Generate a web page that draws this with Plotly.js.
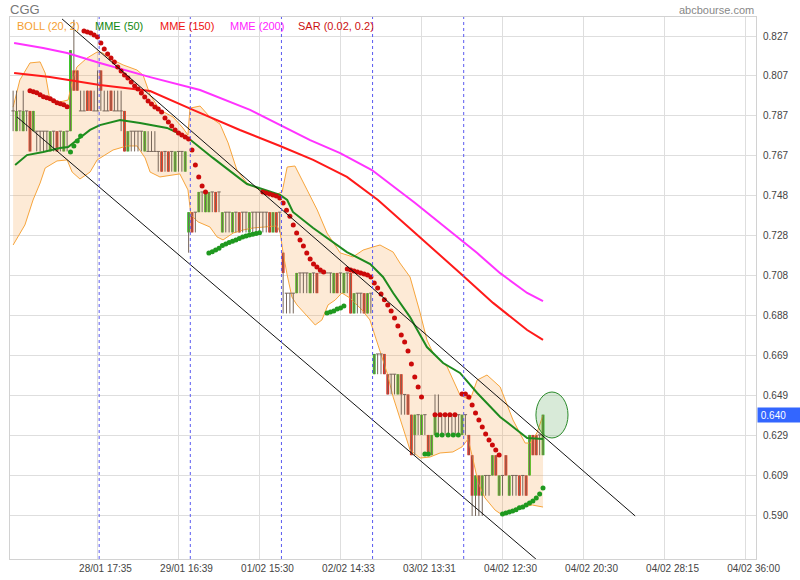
<!DOCTYPE html>
<html><head><meta charset="utf-8">
<script src="https://cdn.plot.ly/plotly-3.0.1.min.js"></script>
<style>html,body{margin:0;padding:0;background:#fff}#chart{width:800px;height:580px}</style>
</head><body><div id="chart"></div>
<script>
// ---------- axes ----------
const xTickIdx = [25, 49, 73, 97, 121, 145, 169, 193, 217];
const xTickText = ["28/01 17:35","29/01 16:39","01/02 15:30","02/02 14:33","03/02 13:31","04/02 12:30","04/02 20:30","04/02 28:15","04/02 36:00"];
const yTickVals = [0.8270,0.80725,0.7875,0.76775,0.7480,0.72825,0.7085,0.68875,0.6690,0.64925,0.6295,0.60975,0.5900];
const yTickText = ["0.827","0.807","0.787","0.767","0.748","0.728","0.708","0.688","0.669","0.649","0.629","0.609","0.590"];
const dayBreaks = [25.5, 52.5, 79.5, 106.5, 133.5];
const lastPrice = 0.640;

// ---------- candles (one per 20-min bar) ----------
const open = [
 .79,.78,.79,.78,.79,.79,.78,.78,.78,.78,.78,.77,.78,.78,.78,.77,.78,.78,.81,.81,.79,.79,.80,.80,.79,.79,
 .81,.79,.79,.80,.79,.79,.79,.79,.77,.78,.78,.78,.78,.77,.77,.77,.77,.77,.77,.77,.77,.77,.76,.77,.77,.76,.73,
 .74,.74,.74,.75,.74,.74,.75,.75,.75,.73,.74,.74,.73,.74,.74,.74,.74,.73,.74,.74,.74,.74,.74,.74,.73,.74,.74,
 .72,.70,.70,.70,.70,.71,.71,.71,.70,.71,.71,.71,.71,.71,.71,.70,.71,.71,.70,.71,.71,.69,.70,.70,.70,.69,.70,
 .66,.67,.67,.67,.66,.66,.66,.65,.66,.65,.65,.64,.63,.64,.63,.64,.63,.62,.63,.64,.64,.64,.64,.64,.64,.64,.63,
 .64,.63,.62,.60,.61,.60,.61,.61,.61,.62,.60,.61,.62,.60,.61,.61,.61,.61,.61,.61,.63,.63,.63,.62];
const high = [
 .80,.80,.79,.80,.79,.79,.79,.78,.78,.78,.78,.78,.78,.78,.78,.78,.78,.82,.835,.81,.80,.80,.80,.80,.80,.81,
 .81,.80,.80,.80,.80,.80,.80,.79,.78,.78,.78,.78,.78,.78,.78,.78,.78,.77,.77,.77,.77,.77,.77,.77,.77,.77,.74,
 .74,.74,.75,.75,.75,.75,.75,.75,.75,.74,.74,.74,.74,.74,.74,.74,.74,.74,.74,.74,.74,.74,.74,.74,.74,.74,.74,
 .72,.70,.70,.70,.71,.71,.71,.71,.71,.71,.71,.71,.71,.71,.71,.71,.71,.71,.71,.71,.71,.70,.70,.70,.70,.70,.70,
 .67,.67,.67,.67,.66,.66,.66,.66,.66,.65,.65,.64,.64,.64,.64,.64,.63,.63,.65,.65,.64,.64,.64,.64,.64,.64,.64,
 .64,.63,.62,.61,.61,.61,.61,.61,.62,.62,.61,.61,.62,.61,.61,.61,.61,.61,.61,.63,.63,.63,.63,.64];
const low = [
 .78,.78,.78,.78,.78,.77,.78,.77,.77,.77,.77,.77,.77,.77,.77,.77,.77,.78,.80,.80,.79,.79,.79,.79,.79,.79,
 .79,.79,.79,.79,.79,.79,.78,.77,.77,.77,.77,.77,.77,.77,.77,.77,.77,.76,.76,.76,.76,.76,.76,.76,.76,.76,.72,
 .73,.73,.74,.74,.74,.74,.74,.74,.74,.73,.73,.73,.73,.73,.73,.73,.73,.73,.73,.73,.73,.73,.73,.73,.73,.73,.73,
 .69,.69,.69,.69,.70,.70,.70,.70,.70,.70,.70,.71,.71,.71,.70,.70,.70,.70,.70,.70,.69,.69,.69,.69,.69,.69,.69,
 .66,.66,.66,.66,.65,.65,.65,.65,.64,.64,.64,.62,.62,.63,.63,.63,.62,.62,.63,.63,.63,.63,.63,.63,.63,.63,.63,
 .63,.62,.59,.59,.59,.59,.60,.60,.61,.61,.60,.60,.61,.60,.60,.60,.60,.60,.60,.61,.62,.62,.62,.62];
const close = [
 .79,.79,.79,.79,.79,.77,.79,.78,.78,.78,.78,.78,.78,.77,.78,.78,.78,.82,.80,.80,.79,.79,.79,.79,.79,.79,
 .80,.79,.79,.79,.79,.79,.79,.77,.78,.78,.78,.78,.78,.78,.77,.77,.77,.77,.76,.77,.76,.77,.77,.77,.77,.77,.74,
 .73,.74,.75,.75,.75,.75,.75,.74,.75,.74,.74,.74,.74,.74,.73,.74,.74,.74,.74,.74,.74,.74,.74,.73,.74,.73,.74,
 .71,.70,.70,.70,.71,.71,.71,.71,.71,.71,.70,.71,.71,.71,.71,.71,.70,.71,.71,.71,.69,.70,.70,.70,.69,.70,.70,
 .67,.67,.67,.66,.65,.66,.66,.66,.65,.65,.64,.62,.64,.64,.64,.64,.62,.63,.64,.64,.64,.64,.64,.64,.64,.64,.64,
 .64,.62,.60,.61,.60,.61,.61,.61,.62,.61,.61,.61,.61,.61,.61,.61,.60,.61,.60,.63,.62,.62,.63,.64];

// ---------- Bollinger (20,2) ----------
const bollUpperX = [0,2,5,8,9.5,10.9,13.9,16.3,17.5,18.9,21.9,24.9,26.6,29.6,32.6,36.7,38.5,40.6,43.5,47.4,50.3,51.8,52.4,55.4,58.3,61.3,63.7,66.3,69.3,73.2,77.6,79.7,81.2,83.5,87.1,90.1,93,96.9,100.7,103.7,106.6,108.7,112.6,114.6,117.6,120.6,122.6,124.4,128.6,132.4,135.4,137.5,140.4,144.3,148.1,151.7,153.2,155.2,157];
const bollUpperY = [.7919,.8053,.8137,.8142,.8087,.7954,.7944,.7954,.8043,.8117,.8161,.8191,.8186,.8151,.8127,.8102,.8077,.7979,.7905,.787,.7816,.7781,.7914,.7924,.787,.7835,.7742,.7608,.7544,.751,.7485,.75,.7623,.7628,.751,.7411,.7297,.7199,.7179,.7213,.7228,.7238,.7203,.7149,.708,.6902,.6769,.6705,.6636,.6497,.6473,.6571,.6596,.6537,.6374,.626,.626,.631,.6398];
const bollLowerX = [0,3.5,5.9,8,9.5,13,16,17.5,19.8,22.8,24.9,29.6,33.7,36.7,39.1,40.6,43.5,49.4,51.8,52.7,54.8,58.3,60.4,62.2,65.2,68.1,71.1,75.2,78.2,79.1,80,81.2,82.6,84.1,87.4,89.5,91.5,93.3,95.4,97.4,99.8,103.4,105.7,108.7,110.8,112.6,115.5,117.6,120.6,123.5,126.5,130.3,133,134.8,136.3,137.8,139.8,142.8,144.9,147.8,150.8,153.8,157];
const bollLowerY = [.7238,.7337,.746,.7544,.7618,.7653,.7658,.7598,.7564,.7598,.7658,.7707,.7727,.7727,.7668,.7598,.7574,.7589,.751,.7386,.7352,.7327,.7278,.7263,.7297,.7312,.7322,.7327,.7332,.7302,.7198,.709,.6981,.6942,.6882,.6843,.6868,.6942,.6966,.7001,.6976,.6917,.6868,.6719,.6606,.6487,.6339,.6226,.6186,.6191,.6211,.6216,.6241,.628,.6176,.6063,.5989,.5929,.5905,.5929,.5944,.5954,.5944];

// ---------- moving averages ----------
const mme50X = [0.6,4.1,8.9,13.9,16.3,18.9,22.8,25.7,31.7,37.6,45.6,51.5,55.4,59.2,69.3,79.1,81.2,82.9,88.9,93.9,98.9,105.8,109.6,112.6,117.6,122.6,127.4,132.4,137.5,144.3,149.3,152.3,157];
const mme50Y = [.7633,.7682,.7697,.7717,.7722,.7756,.7806,.783,.7855,.784,.7816,.7771,.7717,.7668,.7539,.7485,.746,.7401,.7322,.7263,.7203,.7144,.708,.7001,.6882,.6734,.6655,.6606,.6507,.6389,.6325,.6285,.628];
const mme150X = [0.3,10.9,25.7,40.6,53.3,67.2,79.1,88.9,98.9,108.1,119.1,126.5,132.4,142.2,152.3,157];
const mme150Y = [.8087,.8068,.8028,.7998,.7905,.7806,.7727,.7658,.7574,.746,.7297,.7189,.71,.6952,.6818,.6769];
const mme200X = [0.3,8.9,16,25.7,40.6,55.4,70.2,88,96.9,106.3,119.1,132.4,137.5,144.3,152.3,157];
const mme200Y = [.8235,.8211,.8186,.8137,.8067,.8003,.7905,.7756,.7692,.7608,.7445,.7263,.7198,.7099,.7001,.6961];

// ---------- parabolic SAR (0.02, 0.2): [first bar, values] ----------
const sarRedSegs = [
 [5,  [.800,.7995,.799,.798,.797,.7965,.796,.795,.794,.7935,.793,.792]],
 [21, [.8295,.829,.8285,.8275,.8265,.8235,.8206,.8181,.8161,.8142,.8117,.8097,.8077,.8063,.8043,.8023,.8008,.7989,.7969,.7949,.7934,.7919,.791,.7895,.7865,.7845,.7826,.7806,.7791,.7781,.7771,.7761,.7707,.7633,.7574,.7529,.750]],
 [74, [.750,.7495,.749,.7485,.748,.747,.7445,.741,.738,.7337,.7297,.7263,.7233,.7198,.7169,.7144,.7129,.7114,.7105]],
 [99, [.712,.7115,.711,.7105,.710,.7095,.709,.708,.705,.7026,.6996,.6967,.6942,.6912,.6878,.6838,.6794,.6759,.6714,.665,.6586,.6537,.6487]],
 [133,[.6502,.6502,.6487,.6448,.6408,.6374,.6339,.6305,.6275,.625,.6226,.6201]]
];
const sarGreenSegs = [
 [17, [.7697,.7727,.7752,.7776]],
 [58, [.7198,.7205,.7213,.7222,.7235,.7243,.7250,.7257,.7263,.7270,.7277,.7282,.7287,.7291,.7295,.7298]],
 [93, [.6902,.6907,.6912,.6922,.6927,.6937]],
 [122,[.6206,.6206]],
 [145,[.591,.5915,.592,.5925,.593,.594,.5944,.5954,.5964,.5974,.5989,.6008,.6038]]
];
const sarRedRowX = [125,126.5,128,129.4,130.9];
const sarRedRowY = [.640,.640,.640,.640,.640];
const sarGreenRowX = [125.6,127.1,128.9,130.4,131.9];
const sarGreenRowY = [.630,.630,.630,.630,.630];

// ---------- drawn channel and highlight ----------
const channelTopX = [14.5, 184.3], channelTopY = [0.8354, 0.590];
const channelBotX = [1.16, 154.9], channelBotY = [0.787, 0.5687];
const highlightX = [154.9, 164.4], highlightY = [0.6285, 0.6512];

// ---------- build marks ----------
const wickX=[], wickY=[], dojiX=[], dojiY=[];
const upX=[], upB=[], upL=[], dnX=[], dnB=[], dnL=[];
for (let i = 0; i < open.length; i++) {
  if (high[i] > low[i]) { wickX.push(i, i, null); wickY.push(low[i], high[i], null); }
  if (close[i] > open[i]) { upX.push(i); upB.push(open[i]); upL.push(close[i] - open[i]); }
  else if (close[i] < open[i]) { dnX.push(i); dnB.push(close[i]); dnL.push(open[i] - close[i]); }
  else { dojiX.push(i - 0.5, i + 0.5, null); dojiY.push(open[i], open[i], null); }
}
function segs(list) {
  const x = [], y = [];
  list.forEach(([s, v]) => v.forEach((val, k) => { x.push(s + k); y.push(val); }));
  return {x, y};
}
const sr = segs(sarRedSegs), sg = segs(sarGreenSegs);

const FONT = "Liberation Sans, Arial, Helvetica, sans-serif";
const traces = [
  {type:'scatter', mode:'lines', x: bollUpperX.concat(bollLowerX.slice().reverse()),
   y: bollUpperY.concat(bollLowerY.slice().reverse()), fill:'toself',
   fillcolor:'rgba(245,160,70,0.22)', line:{width:0}, hoverinfo:'skip'},
  {type:'scatter', mode:'lines', x: bollUpperX, y: bollUpperY, line:{color:'#f7a53c', width:1}},
  {type:'scatter', mode:'lines', x: bollLowerX, y: bollLowerY, line:{color:'#f7a53c', width:1}},
  {type:'scatter', mode:'lines', x: wickX, y: wickY, line:{color:'#76665a', width:1}},
  {type:'scatter', mode:'lines', x: dojiX, y: dojiY, line:{color:'#76665a', width:1}},
  {type:'bar', x: upX, y: upL, base: upB, width: 0.86, marker:{color:'#38c826', line:{width:0}}},
  {type:'bar', x: dnX, y: dnL, base: dnB, width: 0.86, marker:{color:'#e8281e', line:{width:0}}},
  {type:'scatter', mode:'lines', x: mme200X, y: mme200Y, line:{color:'#ff33ff', width:2}},
  {type:'scatter', mode:'lines', x: mme150X, y: mme150Y, line:{color:'#ff1a1a', width:2}},
  {type:'scatter', mode:'lines', x: mme50X, y: mme50Y, line:{color:'#1e8a1e', width:2}},
  {type:'scatter', mode:'markers', x: sr.x, y: sr.y, marker:{color:'#cc0a0a', size:5}},
  {type:'scatter', mode:'markers', x: sarRedRowX, y: sarRedRowY, marker:{color:'#cc0a0a', size:5}},
  {type:'scatter', mode:'markers', x: sg.x, y: sg.y, marker:{color:'#1f991f', size:5}},
  {type:'scatter', mode:'markers', x: sarGreenRowX, y: sarGreenRowY, marker:{color:'#1f991f', size:5}},
  {type:'scatter', mode:'lines', x: channelTopX, y: channelTopY, line:{color:'#111', width:1}},
  {type:'scatter', mode:'lines', x: channelBotX, y: channelBotY, line:{color:'#111', width:1}}
];

const shapes = dayBreaks.map(d => ({type:'line', xref:'x', yref:'paper', x0:d, x1:d, y0:0, y1:1,
  line:{color:'#5a5af0', width:1, dash:'3px,3px'}, layer:'above'}));
shapes.push({type:'circle', xref:'x', yref:'y', x0:highlightX[0], x1:highlightX[1], y0:highlightY[0], y1:highlightY[1],
  fillcolor:'rgba(40,140,40,0.18)', line:{color:'#2a8a2a', width:1}, layer:'above'});

const legendItems = [
  ['BOLL (20, 2)', '#f5a030', 0.0067],
  ['MME (50)', '#118811', 0.1113],
  ['MME (150)', '#ee1111', 0.1985],
  ['MME (200)', '#ff22ff', 0.2922],
  ['SAR (0.02, 0.2)', '#cc1111', 0.3834]
];
const annotations = legendItems.map(([t, c, x]) => ({text:t, xref:'paper', yref:'paper', x:x, y:0.9834,
  xanchor:'left', yanchor:'middle', showarrow:false, font:{family:FONT, size:11, color:c}}));
annotations.push({text:'abcbourse.com', xref:'paper', yref:'paper', x:1, y:1.0129, xanchor:'right', yanchor:'middle',
  showarrow:false, font:{family:FONT, size:11, color:'#888'}});
annotations.push({text:'\u00a0' + lastPrice.toFixed(3), xref:'paper', yref:'y', x:1, y:lastPrice, xanchor:'left', yanchor:'middle',
  xshift:1, showarrow:false, bgcolor:'#3366ff', width:43, height:14, align:'left', borderpad:0,
  font:{family:FONT, size:10, color:'#fff'}});

const layout = {
  width:800, height:580, margin:{l:10, r:44, t:17, b:21},
  paper_bgcolor:'#fff', plot_bgcolor:'#fff', showlegend:false, barmode:'overlay', hovermode:false,
  title:{text:'CGG', x:0.0125, xanchor:'left', xref:'container', y:0.983, yanchor:'middle', yref:'container',
         font:{family:FONT, size:13, color:'#777'}},
  xaxis:{range:[-0.92, 220.1], tickmode:'array', tickvals:xTickIdx, ticktext:xTickText, ticks:'',
         ticklabelshift:8, showgrid:true, gridcolor:'#dedede', gridwidth:1, zeroline:false,
         showline:true, mirror:true, linecolor:'#d2d2d2', tickfont:{family:FONT, size:10, color:'#444'}},
  yaxis:{range:[0.56874, 0.83638], side:'right', tickmode:'array', tickvals:yTickVals, ticktext:yTickText, ticks:'',
         ticklabelstandoff:4, showgrid:true, gridcolor:'#dedede', gridwidth:1, zeroline:false,
         showline:true, mirror:true, linecolor:'#d2d2d2', tickfont:{family:FONT, size:10, color:'#444'}},
  shapes: shapes, annotations: annotations
};
Plotly.newPlot('chart', traces, layout, {staticPlot:true, displayModeBar:false});
</script>
</body></html>
